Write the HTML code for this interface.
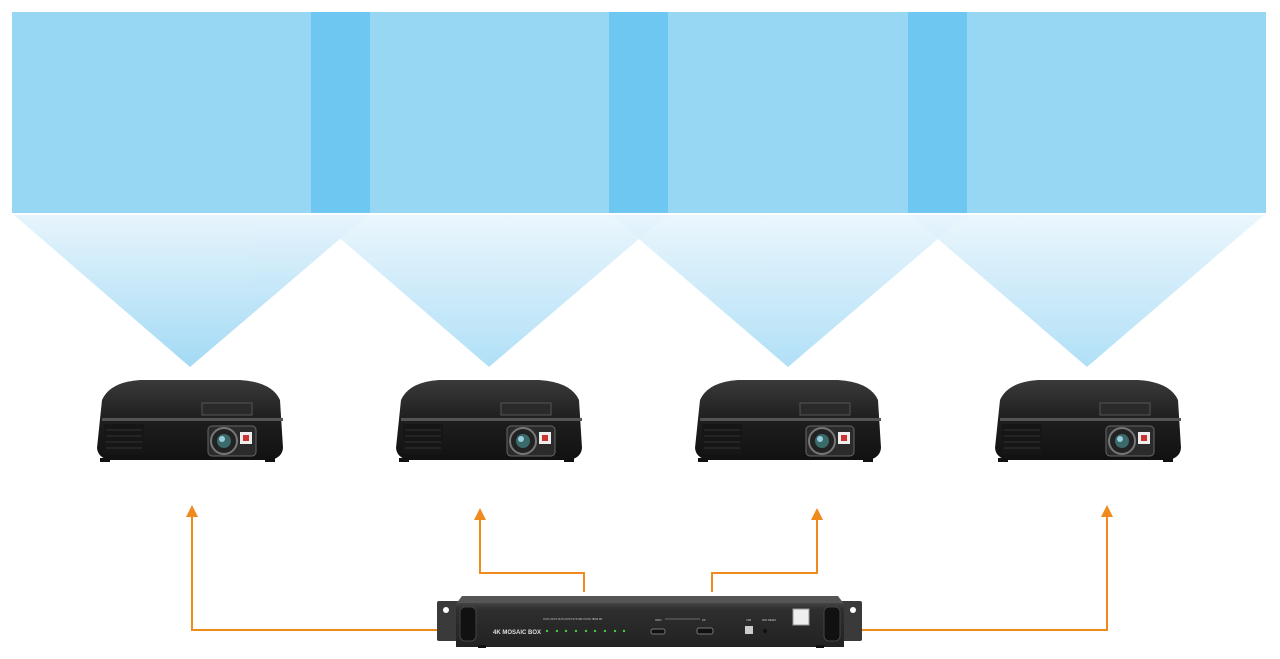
<!DOCTYPE html>
<html><head><meta charset="utf-8"><style>
html,body{margin:0;padding:0;background:#fff;width:1280px;height:659px;overflow:hidden;font-family:"Liberation Sans",sans-serif}
</style></head><body>
<svg width="1280" height="659" viewBox="0 0 1280 659" xmlns="http://www.w3.org/2000/svg">
<defs>
<linearGradient id="tri" x1="0" y1="0" x2="0" y2="1">
<stop offset="0" stop-color="#e6f4fc"/><stop offset="1" stop-color="#9ed8f4"/>
</linearGradient>
<linearGradient id="pj" x1="0" y1="0" x2="0" y2="1">
<stop offset="0" stop-color="#3a3a3a"/><stop offset="0.5" stop-color="#1e1e1e"/><stop offset="1" stop-color="#111"/>
</linearGradient>
<linearGradient id="bx" x1="0" y1="0" x2="0" y2="1">
<stop offset="0" stop-color="#444"/><stop offset="0.15" stop-color="#2e2e2e"/><stop offset="1" stop-color="#222"/>
</linearGradient>
<g id="proj">
<path d="M-88,12 Q-80,-6 -50,-8 L50,-8 Q82,-6 90,12 L93,60 Q92,70 80,72 L-80,72 Q-92,70 -93,60 Z" fill="url(#pj)"/>
<rect x="-88" y="30" width="181" height="3" fill="#555"/>
<rect x="12" y="15" width="50" height="12" fill="#2a2a2a" stroke="#555" stroke-width="1"/>
<rect x="-86" y="36" width="40" height="30" fill="#161616"/>
<g stroke="#333" stroke-width="1">
<line x1="-84" y1="42" x2="-48" y2="42"/><line x1="-84" y1="48" x2="-48" y2="48"/><line x1="-84" y1="54" x2="-48" y2="54"/><line x1="-84" y1="60" x2="-48" y2="60"/>
</g>
<rect x="18" y="38" width="48" height="30" rx="4" fill="#2b2b2b" stroke="#666"/>
<circle cx="34" cy="53" r="13" fill="#222" stroke="#777" stroke-width="2"/>
<circle cx="34" cy="53" r="7" fill="#3a6a6a"/>
<circle cx="32" cy="51" r="3" fill="#9cd"/>
<rect x="50" y="44" width="12" height="12" fill="#eee"/>
<rect x="53" y="47" width="6" height="6" fill="#c33"/>
<rect x="-90" y="70" width="10" height="4" fill="#111"/><rect x="75" y="70" width="10" height="4" fill="#111"/>
</g>
</defs>

<!-- screens -->
<rect x="12" y="12" width="1254" height="201" fill="#97d7f4"/>
<rect x="311" y="12" width="59" height="201" fill="#6dc7f0"/>
<rect x="609" y="12" width="59" height="201" fill="#6dc7f0"/>
<rect x="908" y="12" width="59" height="201" fill="#6dc7f0"/>

<!-- beams -->
<g opacity="0.95">
<polygon points="14,215 368,215 190,367" fill="url(#tri)"/>
<polygon points="313,215 667,215 489,367" fill="url(#tri)" opacity="0.85"/>
<polygon points="611,215 966,215 788,367" fill="url(#tri)" opacity="0.85"/>
<polygon points="910,215 1264,215 1087,367" fill="url(#tri)" opacity="0.85"/>
</g>

<use href="#proj" x="190" y="388"/>
<use href="#proj" x="489" y="388"/>
<use href="#proj" x="788" y="388"/>
<use href="#proj" x="1088" y="388"/>

<!-- connectors -->
<g fill="none" stroke="#f08a1c" stroke-width="2">
<polyline points="440,630 192,630 192,516"/>
<polyline points="584,592 584,573 480,573 480,518"/>
<polyline points="712,592 712,573 817,573 817,518"/>
<polyline points="860,630 1107,630 1107,516"/>
</g>
<g fill="#f08a1c">
<polygon points="192,505 186,517 198,517"/>
<polygon points="480,508 474,520 486,520"/>
<polygon points="817,508 811,520 823,520"/>
<polygon points="1107,505 1101,517 1113,517"/>
</g>

<!-- mosaic box -->
<rect x="437" y="601" width="425" height="40" rx="2" fill="#3a3a3a"/>
<circle cx="446" cy="610" r="3" fill="#fff"/><circle cx="853" cy="610" r="3" fill="#fff"/>
<polygon points="462,596 838,596 844,604 456,604" fill="#555"/>
<rect x="456" y="603" width="388" height="44" fill="url(#bx)"/>
<rect x="460" y="607" width="16" height="34" rx="5" fill="#111" stroke="#444"/>
<rect x="824" y="607" width="16" height="34" rx="5" fill="#111" stroke="#444"/>
<text x="493" y="634" font-size="6" fill="#ddd" font-weight="bold">4K MOSAIC BOX</text>
<g font-size="2.5" fill="#ccc">
<text x="543" y="620">OUT1 OUT2 OUT3 OUT4 SYS WIFI SYNC HDMI DP</text>
<text x="655" y="621">HDMI</text><text x="702" y="621">DP</text><text x="746" y="621">USB</text><text x="762" y="621">WIFI RESET</text>
</g>
<g fill="#4c4">
<circle cx="547" cy="631" r="1.2"/><circle cx="557" cy="631" r="1.2"/><circle cx="566" cy="631" r="1.2"/><circle cx="576" cy="631" r="1.2"/><circle cx="586" cy="631" r="1.2"/><circle cx="595" cy="631" r="1.2"/><circle cx="605" cy="631" r="1.2"/><circle cx="615" cy="631" r="1.2"/><circle cx="624" cy="631" r="1.2"/>
</g>
<line x1="665" y1="619" x2="700" y2="619" stroke="#aaa" stroke-width="0.6"/>
<rect x="651" y="629" width="14" height="5" rx="2" fill="#111" stroke="#777"/>
<rect x="697" y="628" width="16" height="6" rx="2" fill="#111" stroke="#777"/>
<rect x="745" y="626" width="8" height="8" fill="#ccc"/>
<circle cx="765" cy="631" r="2" fill="#111"/>
<rect x="793" y="609" width="16" height="16" fill="#eee" stroke="#999"/>
<rect x="478" y="645" width="8" height="3" fill="#111"/><rect x="816" y="645" width="8" height="3" fill="#111"/>
</svg>
</body></html>
